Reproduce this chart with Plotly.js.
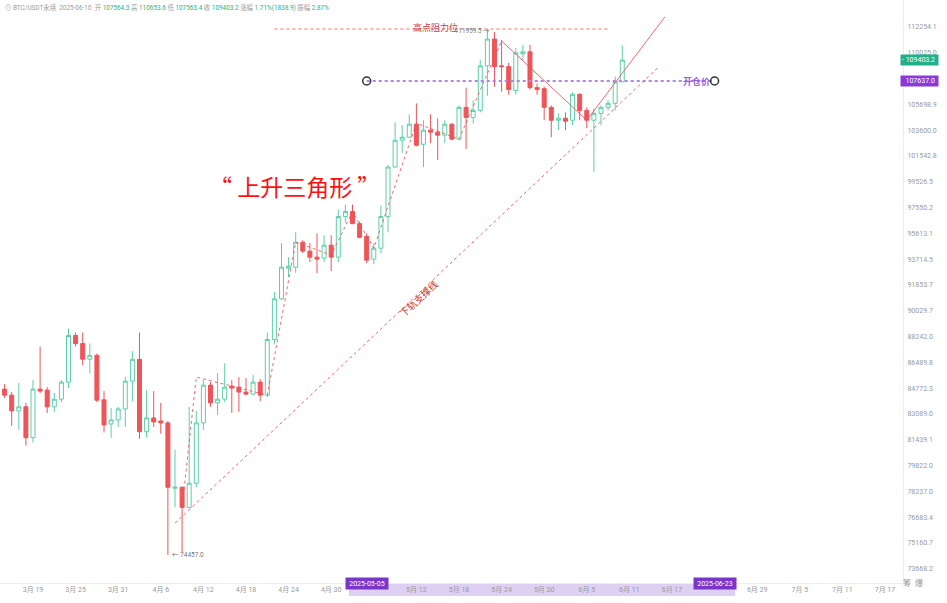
<!DOCTYPE html>
<html><head><meta charset="utf-8">
<script src="https://cdn.plot.ly/plotly-3.0.1.min.js"></script>
<style>html,body{margin:0;padding:0;background:#fff;} #chart{width:947px;height:603px;}</style>
</head><body><div id="chart"></div>
<script>
const dates = ['2025-03-14','2025-03-15','2025-03-16','2025-03-17','2025-03-18','2025-03-19','2025-03-20','2025-03-21','2025-03-22','2025-03-23','2025-03-24','2025-03-25','2025-03-26','2025-03-27','2025-03-28','2025-03-29','2025-03-30','2025-03-31',
'2025-04-01','2025-04-02','2025-04-03','2025-04-04','2025-04-05','2025-04-06','2025-04-07','2025-04-08','2025-04-09','2025-04-10','2025-04-11','2025-04-12','2025-04-13','2025-04-14','2025-04-15','2025-04-16','2025-04-17','2025-04-18','2025-04-19','2025-04-20','2025-04-21','2025-04-22','2025-04-23','2025-04-24','2025-04-25','2025-04-26','2025-04-27','2025-04-28','2025-04-29','2025-04-30',
'2025-05-01','2025-05-02','2025-05-03','2025-05-04','2025-05-05','2025-05-06','2025-05-07','2025-05-08','2025-05-09','2025-05-10','2025-05-11','2025-05-12','2025-05-13','2025-05-14','2025-05-15','2025-05-16','2025-05-17','2025-05-18','2025-05-19','2025-05-20','2025-05-21','2025-05-22','2025-05-23','2025-05-24','2025-05-25','2025-05-26','2025-05-27','2025-05-28','2025-05-29','2025-05-30','2025-05-31',
'2025-06-01','2025-06-02','2025-06-03','2025-06-04','2025-06-05','2025-06-06','2025-06-07','2025-06-08','2025-06-09','2025-06-10'];
const openP = [83900,84706,84310,83280,83544,81565,84706,84640,83544,84046,85168,88311,87762,86700,86960,84000,82443,82700,
83410,85232,86690,81946,82830,82635,82510,78420,78481,77263,78725,82510,84970,83804,84046,84904,84838,84508,84376,85168,84310,88036,90870,93058,93131,94956,94300,93861,93788,94737,
93861,96867,97246,96336,95390,93715,94517,96867,100674,102794,103036,104083,102472,103600,103439,103197,104083,102875,105453,104633,105207,108920,111206,108920,108847,106840,109940,110110,107085,107000,105453,
104406,104567,104406,106530,105207,104406,104960,105453,105781,107564.3];
const highP = [85000,85036,84508,85100,83804,85300,87556,84838,84442,85300,88794,88517,88517,87762,87090,84574,83477,83540,
85500,87240,88517,84640,84574,83804,82635,80814,78520,83544,83284,85300,85168,85770,86425,85300,85500,85433,85633,85366,88517,91354,94883,93861,95688,95100,94883,95613,95466,95466,
97398,97778,97778,96488,95613,94883,97700,100832,104245,104003,104879,105781,104406,104879,104551,104406,104164,105617,107085,106027,109400,111959.5,111820,111120,109160,110450,110700,110700,107420,107170,105617,
104960,105040,106700,106610,105453,105370,105617,106027,108010,110653.6];
const lowP = [83700,84112,82321,82065,81061,81250,84440,83154,83220,83850,84772,87556,86289,85753,83850,81900,81566,82250,
82250,83915,81500,81566,82250,81820,74457,77263,74620,77200,78481,82060,83544,83025,83850,83154,83220,84300,84310,83915,84180,87700,90800,92430,92720,94153,93496,92700,93496,92846,
93496,96412,96300,95240,93423,93350,94153,95688,100600,101780,102950,102300,100674,102552,101227,102552,102794,102794,102098,104140,105040,106400,107170,106750,106500,106500,109400,106924,106500,104406,103036,
103600,103600,104003,104406,103761,100290,104003,105207,105207,107563.4];
const closeP = [84700,84310,83280,83544,81565,84706,84574,83544,84046,85168,88311,87762,86700,86960,83980,82378,82700,83410,
85232,86690,81946,82830,82570,82510,78481,78481,77263,78725,82510,84970,83804,84046,84838,84772,84508,84376,85168,84310,88036,90870,93131,93204,94956,94300,93861,93715,94737,93861,
96867,97246,96336,95315,93642,94517,96867,100674,102794,103036,104083,102391,103600,103439,103197,104083,102875,105453,104633,105207,108920,111206,108847,108847,106924,110025,110110,107085,106924,105453,104406,
104567,104325,106530,105207,104406,104960,105453,105781,107590,109403.2];

const yTickVals = [112254.1,110025.0,105698.9,103600.0,101542.8,99526.5,97550.2,95613.1,93714.5,91853.7,90029.7,88242.0,86489.8,84772.3,83089.0,81439.1,79822.0,78237.0,76683.4,75160.7,73668.2];
const yTickText = ['112254.1','110025.0','105698.9','103600.0','101542.8','99526.5','97550.2','95613.1','93714.5','91853.7','90029.7','88242.0','86489.8','84772.3','83089.0','81439.1','79822.0','78237.0','76683.4','75160.7','73668.2'];
const xTickVals = ['2025-03-19','2025-03-25','2025-03-31','2025-04-06','2025-04-12','2025-04-18','2025-04-24','2025-04-30','2025-05-12','2025-05-18','2025-05-24','2025-05-30','2025-06-05','2025-06-11','2025-06-17','2025-06-29','2025-07-05','2025-07-11','2025-07-17'];
const xTickText = ['3月 19','3月 25','3月 31','4月 6','4月 12','4月 18','4月 24','4月 30','5月 12','5月 18','5月 24','5月 30','6月 5','6月 11','6月 17','6月 29','7月 5','7月 11','7月 17'];

// drawn pattern lines (date, price)
const zigzagDates = ['2025-04-09','2025-04-11','2025-04-21','2025-04-25','2025-04-30','2025-05-03','2025-05-06','2025-05-12','2025-05-18','2025-05-24'];
const zigzagPrices = [77263,85500,84310,94956,94008,97246,94517,104164,102875,111040];
const channelDates = ['2025-05-24','2025-06-05','2025-06-16'];
const channelPrices = [111040,104406,113140];
const supportDates = ['2025-04-08','2025-06-15'];
const supportPrices = [76325,108750];
const resistDates = ['2025-04-22','2025-06-08'];
const resistPrice = 112080;
const entryDates = ['2025-05-05','2025-06-23'];
const entryPrice = 107637.0;
const lastClose = 109403.2;
const highMark = {date:'2025-05-22', price:111959.5};
const lowMark = {date:'2025-04-07', price:74457.0};

const L10 = Math.log10;
const red = '#ef5459', green = '#5ccfa8';

const traces = [
 {type:'candlestick', x:dates, open:openP, high:highP, low:lowP, close:closeP,
  increasing:{line:{color:green,width:1}, fillcolor:'#ffffff'},
  decreasing:{line:{color:red,width:1}, fillcolor:red},
  whiskerwidth:0, showlegend:false, hoverinfo:'skip'},
 {type:'scatter', mode:'lines', x:zigzagDates, y:zigzagPrices, line:{color:'rgba(240,80,80,0.85)', width:1, dash:'dot'}, showlegend:false, hoverinfo:'skip'},
 {type:'scatter', mode:'lines', x:channelDates, y:channelPrices, line:{color:'rgba(240,80,80,0.85)', width:1}, showlegend:false, hoverinfo:'skip'},
 {type:'scatter', mode:'lines', x:supportDates, y:supportPrices, line:{color:'rgba(240,80,80,0.85)', width:1, dash:'dot'}, showlegend:false, hoverinfo:'skip'},
 {type:'scatter', mode:'lines', x:resistDates, y:[resistPrice,resistPrice], line:{color:'rgba(240,80,80,0.85)', width:1, dash:'dot'}, showlegend:false, hoverinfo:'skip'},
 {type:'scatter', mode:'lines', x:entryDates, y:[entryPrice,entryPrice], line:{color:'#ad85ea', width:2, dash:'dot'}, showlegend:false, hoverinfo:'skip'},
 {type:'scatter', mode:'markers', x:entryDates, y:[entryPrice,entryPrice], marker:{symbol:'circle-open', size:8, color:'#333', line:{width:1.5,color:'#333'}}, showlegend:false, hoverinfo:'skip'}
];

const g = '#26b37f', gy = '#9a9a9a';
const header = '<span style="color:'+gy+'">⊙&nbsp;BTC/USDT永续&nbsp;&nbsp;2025-06-10&nbsp;&nbsp;开&nbsp;</span><span style="color:'+g+'">107564.3</span>'
 + '<span style="color:'+gy+'">&nbsp;高&nbsp;</span><span style="color:'+g+'">110653.6</span>'
 + '<span style="color:'+gy+'">&nbsp;低&nbsp;</span><span style="color:'+g+'">107563.4</span>'
 + '<span style="color:'+gy+'">&nbsp;收&nbsp;</span><span style="color:'+g+'">109403.2</span>'
 + '<span style="color:'+gy+'">&nbsp;涨幅&nbsp;</span><span style="color:'+g+'">1.71%(1838.9)</span>'
 + '<span style="color:'+gy+'">&nbsp;振幅&nbsp;</span><span style="color:'+g+'">2.87%</span>';

const layout = {
 width:947, height:603,
 margin:{l:0, r:44, t:0, b:20},
 paper_bgcolor:'#ffffff', plot_bgcolor:'#ffffff',
 font:{family:'Roboto, "Noto Sans CJK SC", sans-serif', size:7, color:gy},
 boxgap:0.2,
 showlegend:false,
 xaxis:{type:'date', range:['2025-03-14 08:27','2025-07-19 12:58'], rangeslider:{visible:false},
  tickvals:xTickVals, ticktext:xTickText, showgrid:false, zeroline:false, ticks:'',
  showline:true, linecolor:'#eeeeee', linewidth:1, tickfont:{size:7,color:gy}, fixedrange:true},
 yaxis:{type:'log', side:'right', range:[4.862435, 5.059320], autorange:false,
  tickvals:yTickVals, ticktext:yTickText, showgrid:false, zeroline:false, ticks:'', ticklabelstandoff:2,
  showline:true, linecolor:'#eeeeee', linewidth:1, tickfont:{size:7,color:gy}},
 shapes:[
  {type:'rect', xref:'x', yref:'paper', x0:'2025-05-02 12:00', x1:'2025-06-25 21:30', y0:-0.0223, y1:-0.0017, fillcolor:'#ddd0f2', line:{width:0}, layer:'below'}
 ],
 annotations:[
  {xref:'paper', yref:'paper', x:0.003, y:0.999, xanchor:'left', yanchor:'top', text:header, showarrow:false, font:{size:6.4, color:gy}},
  {xref:'x', yref:'y', x:'2025-04-24 20:00', y:L10(99200), text:'“&nbsp;上升三角形&nbsp;”', showarrow:false, font:{family:'"Noto Sans CJK SC"', size:23, color:'#ff1010'}},
  {xref:'x', yref:'y', x:'2025-05-14 16:00', y:L10(112254), text:'高点阻力位', showarrow:false, font:{family:'"Noto Sans CJK SC"', size:9, color:'#d03a3a'}},
  {xref:'x', yref:'y', x:highMark.date, y:L10(highMark.price), xanchor:'right', xshift:5, yshift:-1, text:highMark.price.toFixed(1)+' →', showarrow:false, font:{size:6.3, color:'#777'}},
  {xref:'x', yref:'y', x:lowMark.date, y:L10(lowMark.price), xanchor:'left', xshift:2, text:'← '+lowMark.price.toFixed(1), showarrow:false, font:{size:6.5, color:'#777'}},
  {xref:'x', yref:'y', x:'2025-06-20 12:00', y:L10(entryPrice), text:'<b>开仓价</b>', showarrow:false, font:{family:'"Noto Sans CJK SC"', size:9, color:'#9b5de5'}},
  {xref:'x', yref:'y', x:'2025-05-12 10:00', y:L10(90900), text:'下轨支撑线', textangle:-43, showarrow:false, font:{family:'"Noto Sans CJK SC"', size:9.5, color:'#c83232'}},
  {xref:'paper', yref:'y', x:1, y:L10(lastClose), xanchor:'left', xshift:-3, text:'-&nbsp;'+lastClose.toFixed(1)+'&nbsp;', showarrow:false, bgcolor:'#22b08a', font:{size:7, color:'#ffffff'}, borderpad:1},
  {xref:'paper', yref:'y', x:1, y:L10(entryPrice), xanchor:'left', xshift:-3, text:'&nbsp;&nbsp;'+entryPrice.toFixed(1)+'&nbsp;', showarrow:false, bgcolor:'#8a3ad6', font:{size:7, color:'#ffffff'}, borderpad:1},
  {xref:'x', yref:'paper', x:entryDates[0], y:-0.0125, text:'&nbsp;2025-05-05&nbsp;', showarrow:false, bgcolor:'#7a35c9', font:{size:7, color:'#ffffff'}, borderpad:1.5},
  {xref:'x', yref:'paper', x:entryDates[1], y:-0.0125, text:'&nbsp;2025-06-23&nbsp;', showarrow:false, bgcolor:'#7a35c9', font:{size:7, color:'#ffffff'}, borderpad:1.5},
  {xref:'paper', yref:'paper', x:1.0244, y:-0.012, text:'筹&nbsp;&nbsp;爆', showarrow:false, font:{size:8, color:gy}}
 ]
};

Plotly.newPlot('chart', traces, layout, {displayModeBar:false, staticPlot:true});
</script></body></html>
